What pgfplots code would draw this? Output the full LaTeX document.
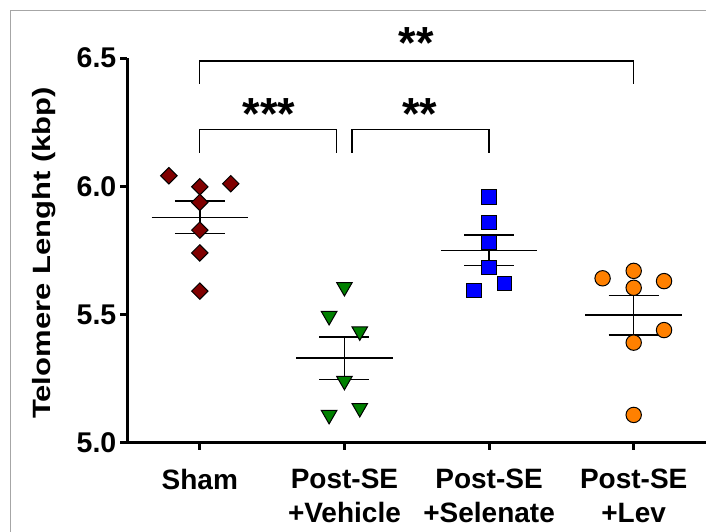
\documentclass[border=0pt]{standalone}
\usepackage{fontspec}
\setmainfont{Liberation Sans}
\usepackage{graphicx}
\usepackage{pgfplots}
\pgfplotsset{compat=1.18}
\definecolor{shamred}{RGB}{128,0,0}
\definecolor{vehgreen}{RGB}{0,128,0}
\definecolor{selblue}{RGB}{0,0,255}
\definecolor{levorange}{RGB}{255,128,0}
\begin{document}
\begin{tikzpicture}
\begin{axis}[
  scale only axis,
  width=578.5pt, height=384.5pt,
  xmin=-0.5, xmax=3.5, ymin=5, ymax=6.5,
  axis x line*=bottom, axis y line*=left,
  axis line style={line width=3pt, black},
  xtick={0,1,2,3},
  xticklabels={Sham,{Post-SE\\+Vehicle},{Post-SE\\+Selenate},{Post-SE\\+Lev}},
  ytick={5,5.5,6,6.5},
  yticklabels={5.0,5.5,6.0,6.5},
  tick align=outside,
  major tick length=7pt,
  tick style={line width=3pt, black},
  xticklabel style={align=center, font=\fontsize{28}{34.5}\selectfont\bfseries, anchor=north, inner sep=0pt, yshift=-19pt},
  yticklabel style={font=\fontsize{28.5}{30}\selectfont\bfseries, anchor=east, inner sep=0pt, xshift=-4pt},
  ylabel={\scalebox{1.24}[1]{Telomere Lenght (kbp)}},
  ylabel style={at={(axis description cs:-0.1443,0.493)}, anchor=center, font=\fontsize{25}{28}\selectfont\bfseries},
  clip=false,
]
% data points
\addplot[only marks, mark=square*, mark size=5.8pt, mark options={rotate=45, fill=shamred, draw=black, line width=1pt}]
  coordinates {(-0.214,6.041) (0,5.998) (0.214,6.010) (0,5.937) (0,5.829) (0,5.740) (0,5.591)};
\addplot[only marks, mark=triangle*, mark size=9pt, mark options={rotate=180, fill=vehgreen, draw=black, line width=1pt}]
  coordinates {(1,5.607) (0.894,5.494) (1.106,5.434) (1,5.241) (0.894,5.108) (1.106,5.135)};
\addplot[only marks, mark=square*, mark size=7.3pt, mark options={fill=selblue, draw=black, line width=1pt}]
  coordinates {(2,5.958) (2,5.859) (2,5.780) (2,5.683) (1.894,5.593) (2.106,5.620)};
% mean and SEM
\addplot[black, line width=1.5pt] coordinates {(-0.334,5.878) (0.334,5.878)};
\addplot[black, line width=1.5pt] coordinates {(-0.173,5.815) (0.173,5.815)};
\addplot[black, line width=1.5pt] coordinates {(-0.173,5.942) (0.173,5.942)};
\addplot[black, line width=1.5pt] coordinates {(0,5.815) (0,5.942)};
\addplot[black, line width=1.5pt] coordinates {(0.666,5.330) (1.334,5.330)};
\addplot[black, line width=1.5pt] coordinates {(0.827,5.247) (1.173,5.247)};
\addplot[black, line width=1.5pt] coordinates {(0.827,5.412) (1.173,5.412)};
\addplot[black, line width=1.5pt] coordinates {(1,5.247) (1,5.412)};
\addplot[black, line width=1.5pt] coordinates {(1.666,5.749) (2.334,5.749)};
\addplot[black, line width=1.5pt] coordinates {(1.827,5.690) (2.173,5.690)};
\addplot[black, line width=1.5pt] coordinates {(1.827,5.809) (2.173,5.809)};
\addplot[black, line width=1.5pt] coordinates {(2,5.690) (2,5.809)};
\addplot[black, line width=1.5pt] coordinates {(2.666,5.498) (3.334,5.498)};
\addplot[black, line width=1.5pt] coordinates {(2.827,5.419) (3.173,5.419)};
\addplot[black, line width=1.5pt] coordinates {(2.827,5.574) (3.173,5.574)};
\addplot[black, line width=1.5pt] coordinates {(3,5.419) (3,5.574)};
\addplot[only marks, mark=*, mark size=7.7pt, mark options={fill=levorange, draw=black, line width=1pt}]
  coordinates {(2.785,5.641) (3,5.670) (3.21,5.630) (3,5.604) (3.21,5.439) (3,5.390) (3,5.108)};
% brackets
\addplot[black, line width=1.3pt] coordinates {(0,6.40) (0,6.489) (3,6.489) (3,6.40)};
\addplot[black, line width=1.3pt] coordinates {(0,6.13) (0,6.221) (0.947,6.221) (0.947,6.13)};
\addplot[black, line width=1.3pt] coordinates {(1.053,6.13) (1.053,6.221) (2,6.221) (2,6.13)};
\node[anchor=base, inner sep=0pt, yshift=-23pt, font=\fontsize{45}{45}\selectfont\bfseries] at (axis cs:1.498,6.588) {**};
\node[anchor=base, inner sep=0pt, yshift=-23pt, font=\fontsize{45}{45}\selectfont\bfseries] at (axis cs:0.477,6.313) {***};
\node[anchor=base, inner sep=0pt, yshift=-23pt, font=\fontsize{45}{45}\selectfont\bfseries] at (axis cs:1.52,6.313) {**};
\end{axis}
\draw[gray!70, line width=1pt] (current axis.south west) ++(-116.5pt,-100pt) -- ++(0pt,531.6pt) -- ++(720pt,0pt);
\pgfresetboundingbox
\useasboundingbox (current axis.south west) ++(-127.5pt,-88.4pt) rectangle ++(706pt,531pt);
\end{tikzpicture}
\end{document}
